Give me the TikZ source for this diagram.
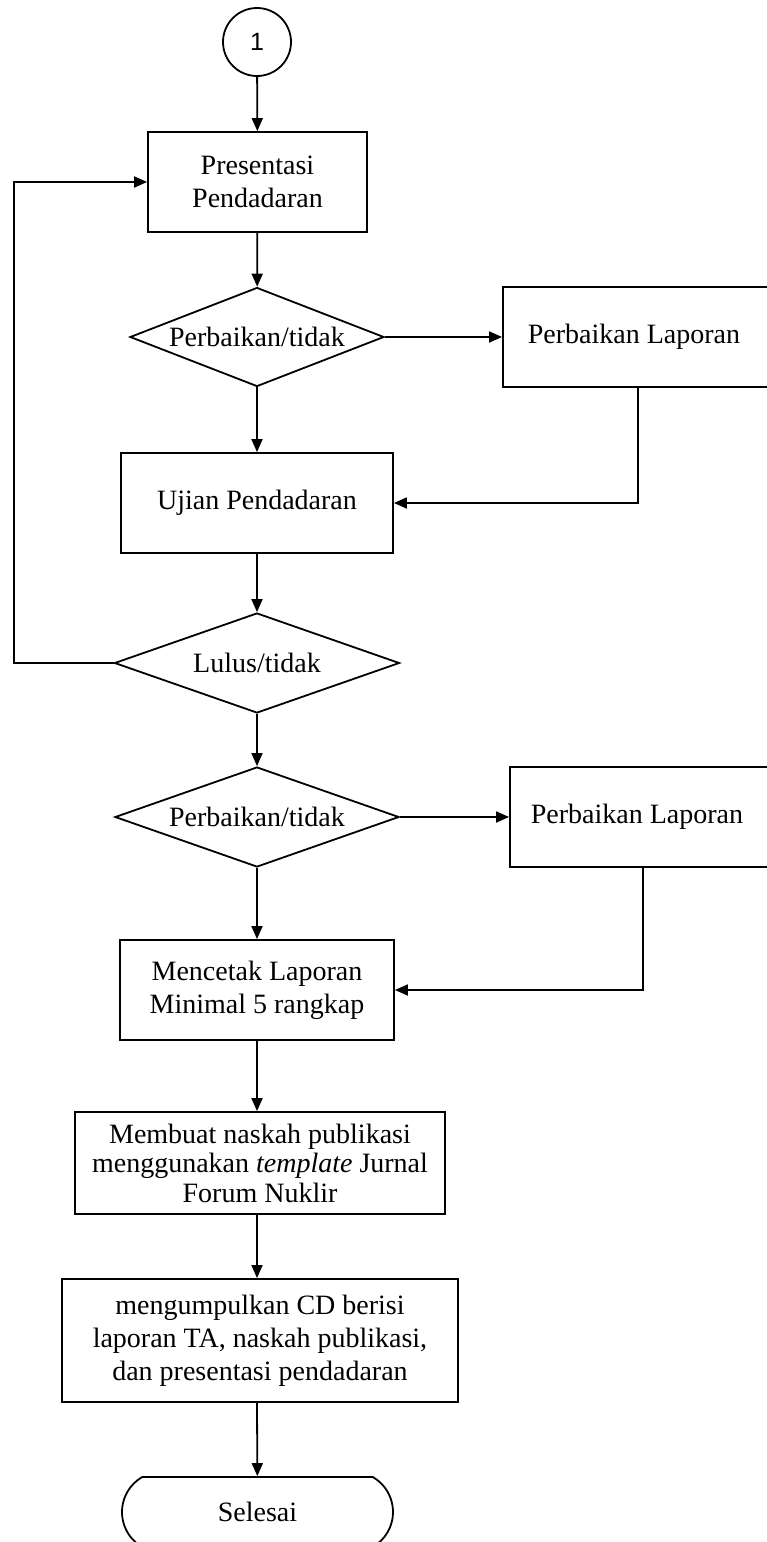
\documentclass[tikz,border=0pt]{standalone}
\usepackage{fontspec}
\setmainfont{Liberation Serif}
\newfontfamily\digitfont{Liberation Sans}
\usetikzlibrary{arrows.meta, shapes.geometric, shapes.misc}

\begin{document}
\begin{tikzpicture}[x=1pt, y=-1pt, line width=1.8pt,
  font=\fontsize{28}{33}\selectfont,
  >={Triangle[length=13pt, width=11pt]},
  box/.style={draw, rectangle, align=center, inner sep=0pt},
  decision/.style={draw, diamond, align=center, inner sep=0pt, aspect=2.6},
  terminal/.style={draw, rounded rectangle, rounded rectangle arc length=120, inner sep=0pt},
  connector/.style={draw, circle, inner sep=0pt, minimum size=68pt, font=\digitfont\fontsize{25}{25}\selectfont}]

  % ---- Page frame ----
  \useasboundingbox (0,0) rectangle (767,1542);

  % ---- Main column ----
  \node[connector] (start) at (257,42) {1};
  \node[box, minimum width=219pt, minimum height=100pt] (pres) at (257.5,182) {Presentasi\\Pendadaran};
  \node[decision, minimum width=254pt, minimum height=99pt] (dec1) at (257,337) {Perbaikan/tidak};
  \node[box, minimum width=272pt, minimum height=100pt] (ujian) at (257,503) {Ujian Pendadaran};
  \node[decision, minimum width=285pt, minimum height=100pt] (lulus) at (257,663) {Lulus/tidak};
  \node[decision, minimum width=284pt, minimum height=100pt] (dec2) at (257,817) {Perbaikan/tidak};
  \node[box, minimum width=274pt, minimum height=100pt] (cetak) at (257,990) {Mencetak Laporan\\Minimal 5 rangkap};
  \node[box, minimum width=370pt, minimum height=102pt, font=\fontsize{28}{29.5}\selectfont] (naskah) at (260,1163)
    {Membuat naskah publikasi\\menggunakan \textit{template} Jurnal\\Forum Nuklir};
  \node[box, minimum width=396pt, minimum height=123pt] (cd) at (260,1340.5)
    {mengumpulkan CD berisi\\laporan TA, naskah publikasi,\\dan presentasi pendadaran};
  \node[terminal, minimum width=271pt, minimum height=70pt] (selesai) at (257.5,1512) {Selesai};

  % ---- Side boxes ----
  \node[box, minimum width=270pt, minimum height=100pt] (fix1) at (638,337) {\hspace*{-8pt}Perbaikan Laporan};
  \node[box, minimum width=266pt, minimum height=100pt] (fix2) at (643,817) {\hspace*{-12pt}Perbaikan Laporan};

  % ---- Loop corner ----
  \coordinate (loopcorner) at (14,663);

  % ---- Flow ----
  \draw[->] (start) -- (pres);
  \draw[->] (pres) -- (dec1);
  \draw[->] (dec1) -- (fix1);
  \draw[->] (dec1) -- (ujian);
  \draw[->] (fix1.south) |- (ujian.east);
  \draw[->] (ujian) -- (lulus);
  \draw[->] (lulus.west) -- (loopcorner) |- (pres.west);
  \draw[->] (lulus) -- (dec2);
  \draw[->] (dec2) -- (fix2);
  \draw[->] (dec2) -- (cetak);
  \draw[->] (fix2.south) |- (cetak.east);
  \draw[->] (cetak.south) -- (cetak.south |- naskah.north);
  \draw[->] (cetak.south |- naskah.south) -- (cetak.south |- cd.north);
  \draw[->] (cetak.south |- cd.south) -- (selesai);

\end{tikzpicture}
\end{document}
